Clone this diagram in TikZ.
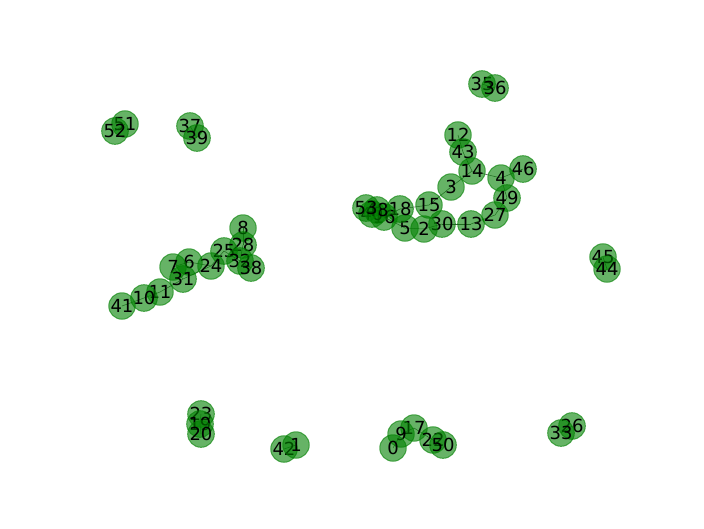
\documentclass[tikz,border=0pt]{standalone}
\usepackage{fontspec}
\setmainfont{DejaVu Sans}
\definecolor{nodeG}{RGB}{0,128,0}
\pgfdeclarelayer{bg}
\pgfsetlayers{bg,main}

\begin{document}
\begin{tikzpicture}[x=1pt,y=-1pt,
  vtx/.style={circle,minimum size=26.5pt,inner sep=0pt,fill=nodeG,draw=nodeG,line width=1pt,
    fill opacity=0.6,draw opacity=0.6,text opacity=1,font=\fontsize{18}{18}\selectfont},
  lnk/.style={black!70,line width=0.5pt}]
\useasboundingbox (0,0) rectangle (704,528);
% small pairs and trios
\foreach \n/\x/\y in {35/482/84,36/495/88,51/125/124,52/115/131,37/190/126,39/197/138,
  45/603/257,44/607/269,26/572/426,33/561/433,42/284/449,1/296/445,
  23/201/414,19/200/424,20/201/434,
  17/414/428,9/401/434,0/393/448,22/433/440,50/443/445}
  \node[vtx] (v\n) at (\x,\y) {\n};
% right cluster
\foreach \n/\x/\y in {12/458/135,43/463/152,14/472/171,46/523/169,4/501/178,3/451/187,
  49/507/198,27/495/215,13/471/224,30/442/224,2/424/229,5/405/228,15/429/205,
  18/400/209,16/384/217,40/372/214,48/377/210,53/366/208}
  \node[vtx] (v\n) at (\x,\y) {\n};
% left cluster
\foreach \n/\x/\y in {8/243/228,28/243/245,25/224/251,32/240/261,38/251/268,24/211/266,
  6/189/262,7/173/267,31/183/279,11/160/292,10/144/298,41/122/306}
  \node[vtx] (v\n) at (\x,\y) {\n};
\begin{pgfonlayer}{bg}
\foreach \a/\b in {35/36,51/52,37/39,45/44,26/33,42/1,23/19,19/20,
  0/9,9/17,17/22,22/50,
  12/43,43/14,14/4,4/46,4/49,49/27,27/13,13/30,30/2,2/5,14/3,3/15,15/18,18/16,16/40,40/48,48/53,5/16,
  8/28,28/32,32/38,32/25,25/24,24/6,6/7,7/31,24/31,31/11,11/10,10/41}
  \draw[lnk] (v\a.center) -- (v\b.center);
\end{pgfonlayer}
\end{tikzpicture}
\end{document}
